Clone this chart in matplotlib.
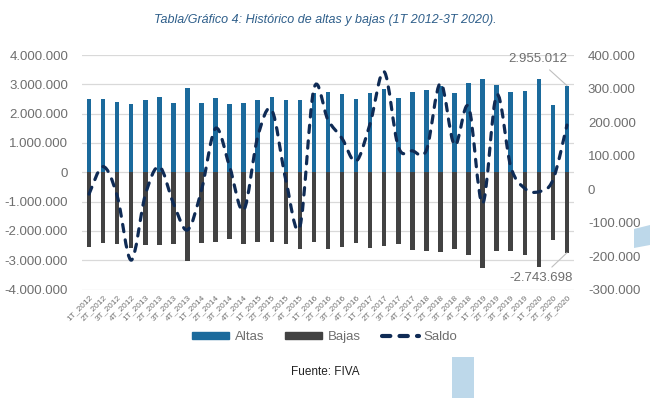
import numpy as np
import matplotlib
matplotlib.use('Agg')
import matplotlib.pyplot as plt
from matplotlib.path import Path
from matplotlib.patches import PathPatch, Rectangle, Polygon, Patch
from matplotlib.lines import Line2D
from matplotlib.ticker import FuncFormatter

plt.rcParams['font.family'] = ['Liberation Sans', 'DejaVu Sans']

# Datos (1T 2012 - 3T 2020)
trimestres = ['1T_2012', '2T_2012', '3T_2012', '4T_2012',
              '1T_2013', '2T_2013', '3T_2013', '4T_2013',
              '1T_2014', '2T_2014', '3T_2014', '4T_2014',
              '1T_2015', '2T_2015', '3T_2015', '4T_2015',
              '1T_2016', '2T_2016', '3T_2016', '4T_2016',
              '1T_2017', '2T_2017', '3T_2017', '4T_2017',
              '1T_2018', '2T_2018', '3T_2018', '4T_2018',
              '1T_2019', '2T_2019', '3T_2019', '4T_2019',
              '1T_2020', '2T_2020', '3T_2020']

altas = [2490000, 2490000, 2410000, 2330000, 2450000, 2570000, 2380000, 2890000,
         2380000, 2530000, 2330000, 2360000, 2450000, 2580000, 2480000, 2450000,
         2720000, 2750000, 2660000, 2490000, 2720000, 2840000, 2550000, 2740000,
         2810000, 2950000, 2700000, 3050000, 3180000, 2980000, 2730000, 2780000,
         3190000, 2280000, 2955012]

bajas = [-2540000, -2420000, -2460000, -2580000, -2490000, -2490000, -2450000, -3020000,
         -2400000, -2380000, -2290000, -2450000, -2360000, -2380000, -2440000, -2600000,
         -2380000, -2600000, -2540000, -2420000, -2570000, -2510000, -2460000, -2660000,
         -2700000, -2710000, -2600000, -2810000, -3260000, -2700000, -2670000, -2810000,
         -3240000, -2300000, -2743698]

saldo = [-15000, 67000, -20000, -212000, -18000, 67000, -42000, -122000,
         -3000, 181000, 67000, -63000, 156000, 236000, 27000, -112000,
         300000, 206000, 151000, 83000, 196000, 350000, 126000, 114000,
         116000, 316000, 131000, 246000, -43000, 281000, 67000, 2000,
         -8000, 27000, 191000]

c_altas = '#1B6A9C'
c_bajas = '#424242'
c_saldo = '#0F2B55'
c_txt = '#6E6E6E'


def miles(v, pos):
    return '{:,.0f}'.format(v).replace(',', '.')


fig = plt.figure(figsize=(6.5, 3.98), dpi=100)
ax = fig.add_axes([82 / 650, 1 - 289.6 / 398, 492 / 650, 234.6 / 398])
ax2 = ax.twinx()

x = np.arange(len(trimestres))
ax.bar(x, altas, width=0.32, color=c_altas, zorder=2)
ax.bar(x, bajas, width=0.32, color=c_bajas, zorder=2)

ax.set_xlim(-0.5, len(trimestres) - 0.5)
ax.set_ylim(-4000000, 4000000)
ax.set_yticks(np.arange(-4000000, 4000001, 1000000))
ax.yaxis.set_major_formatter(FuncFormatter(miles))
ax.grid(axis='y', color='#D9D9D9', lw=0.9, zorder=0)
ax.set_axisbelow(True)
ax.set_xticks(x)
ax.set_xticklabels(trimestres, rotation=45, ha='right', rotation_mode='anchor',
                   fontsize=6, color=c_txt)
ax.tick_params(axis='both', length=0)
ax.tick_params(axis='y', labelsize=9.5, labelcolor=c_txt, pad=10)
ax.tick_params(axis='x', pad=3)

ax2.set_ylim(-300000, 400000)
ax2.set_yticks(np.arange(-300000, 400001, 100000))
ax2.yaxis.set_major_formatter(FuncFormatter(miles))
ax2.tick_params(axis='y', length=0, labelsize=9.5, labelcolor=c_txt, pad=10)

for a in (ax, ax2):
    for s in a.spines.values():
        s.set_visible(False)

# linea suavizada de saldo (curva de Bezier a traves de los puntos)
pts = np.column_stack([x, saldo]).astype(float)
verts = [pts[0]]
codes = [Path.MOVETO]
n = len(pts)
for i in range(n - 1):
    p0 = pts[max(i - 1, 0)]
    p1 = pts[i]
    p2 = pts[i + 1]
    p3 = pts[min(i + 2, n - 1)]
    verts += [p1 + (p2 - p0) / 6, p2 - (p3 - p1) / 6, p2]
    codes += [Path.CURVE4] * 3
ax2.add_patch(PathPatch(Path(verts, codes), fill=False, edgecolor=c_saldo, lw=2.3,
                        linestyle=(0, (2.3, 2.6)), capstyle='round', zorder=3))

# etiquetas del ultimo trimestre
ax.annotate('2.955.012', xy=(x[-1], altas[-1]), xytext=(-21, 19), textcoords='offset points',
            ha='center', va='center', fontsize=9.5, color=c_txt,
            arrowprops=dict(arrowstyle='-', color='#BFBFBF', lw=0.8, shrinkA=2, shrinkB=0))
ax.annotate('-2.743.698', xy=(x[-1], bajas[-1]), xytext=(-19, -18), textcoords='offset points',
            ha='center', va='center', fontsize=9.5, color=c_txt,
            arrowprops=dict(arrowstyle='-', color='#BFBFBF', lw=0.8, shrinkA=2, shrinkB=0))

fig.text(0.5, 1 - 20 / 398, 'Tabla/Gráfico 4: Histórico de altas y bajas (1T 2012-3T 2020).',
         ha='center', va='center', fontsize=9, style='italic', color='#2E5E8A')

handles = [Patch(color=c_altas), Patch(color=c_bajas),
           Line2D([0], [0], color=c_saldo, lw=3, linestyle=(0, (2.0, 2.2)),
                  dash_capstyle='round')]
fig.legend(handles, ['Altas', 'Bajas', 'Saldo'], loc='center', ncol=3,
           bbox_to_anchor=(0.5, 1 - 337 / 398), frameon=False, fontsize=9.5,
           labelcolor=c_txt, handlelength=2.8, handleheight=0.5, columnspacing=1.6,
           handletextpad=0.4)

fig.text(0.5, 1 - 372 / 398, 'Fuente: FIVA', ha='center', va='center', fontsize=8.5,
         color='#222222')

# formas decorativas del documento
fig.add_artist(Rectangle((452 / 650, 0), 22 / 650, 41 / 398, transform=fig.transFigure,
                         color='#BDD8EA', lw=0))
fig.add_artist(Polygon([(634 / 650, 1 - 229 / 398), (1.0, 1 - 225 / 398),
                        (1.0, 1 - 245 / 398), (634 / 650, 1 - 248 / 398)],
                       closed=True, transform=fig.transFigure, color='#BDD8EA', lw=0))

fig.savefig('out.png', dpi=100)
